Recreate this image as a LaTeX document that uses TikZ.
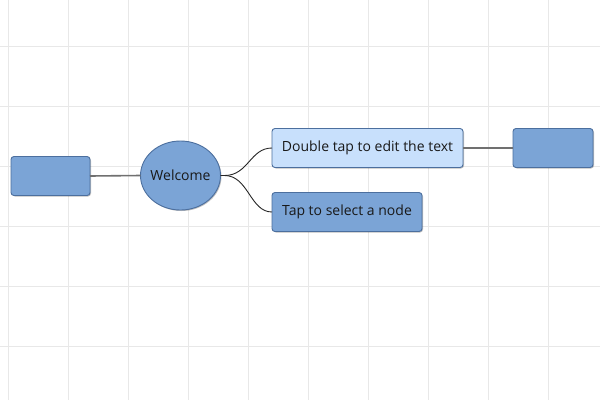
\documentclass[tikz,border=0pt]{standalone}
\usepackage{fontspec}
\setmainfont{Open Sans}
\usetikzlibrary{shapes.geometric,shadows}
\definecolor{gridc}{HTML}{E8E8E8}
\definecolor{nodefill}{HTML}{7BA4D6}
\definecolor{lightfill}{HTML}{C8E0FC}
\definecolor{nodeborder}{HTML}{4C6F9E}
\definecolor{linkgray}{HTML}{707070}
\begin{document}
\begin{tikzpicture}[x=1pt,y=-1pt,
  every node/.style={inner sep=0pt,outer sep=0pt,font=\fontsize{14}{16}\selectfont,text=black!90},
  boxstyle/.style={draw=nodeborder,line width=0.9pt,rounded corners=3pt,
    drop shadow={shadow xshift=1pt,shadow yshift=-1pt,opacity=0.25,fill=black}},
  mainlink/.style={draw=linkgray,line width=1.6pt},
  curvelink/.style={draw=black!85,line width=0.9pt}]
\useasboundingbox (0,0) rectangle (600,400);
\fill[white] (0,0) rectangle (600,400);
\foreach \x in {8,68,...,548} \draw[gridc,line width=0.8pt] (\x,0) -- (\x,400);
\foreach \y in {46,106,...,346} \draw[gridc,line width=0.8pt] (0,\y) -- (600,\y);
\node[boxstyle,fill=nodefill,minimum width=79pt,minimum height=39pt] (left) at (50.5,176) {};
\node[ellipse,draw=nodeborder,line width=0.9pt,fill=nodefill,minimum width=80pt,minimum height=69pt,
  drop shadow={shadow xshift=1pt,shadow yshift=-1pt,opacity=0.25,fill=black},
  label={center:Welcome}] (welcome) at (180.5,175.5) {};
\node[boxstyle,fill=lightfill,minimum width=191pt,minimum height=39pt] (dbl) at (367.5,148) {Double tap to edit the text};
\node[boxstyle,fill=nodefill,minimum width=150pt,minimum height=39pt] (tap) at (347,212) {Tap to select a node};
\node[boxstyle,fill=nodefill,minimum width=80pt,minimum height=39pt] (right) at (553,148) {};
\draw[mainlink] (left.east) -- (welcome.west);
\draw[mainlink] (dbl.east) -- (right.west);
\draw[curvelink] (welcome.east) -- ++(4,0) .. controls +(24,0) and +(-22,0) .. (dbl.west);
\draw[curvelink] (welcome.east) -- ++(4,0) .. controls +(24,0) and +(-22,0) .. (tap.west);
\end{tikzpicture}
\end{document}
